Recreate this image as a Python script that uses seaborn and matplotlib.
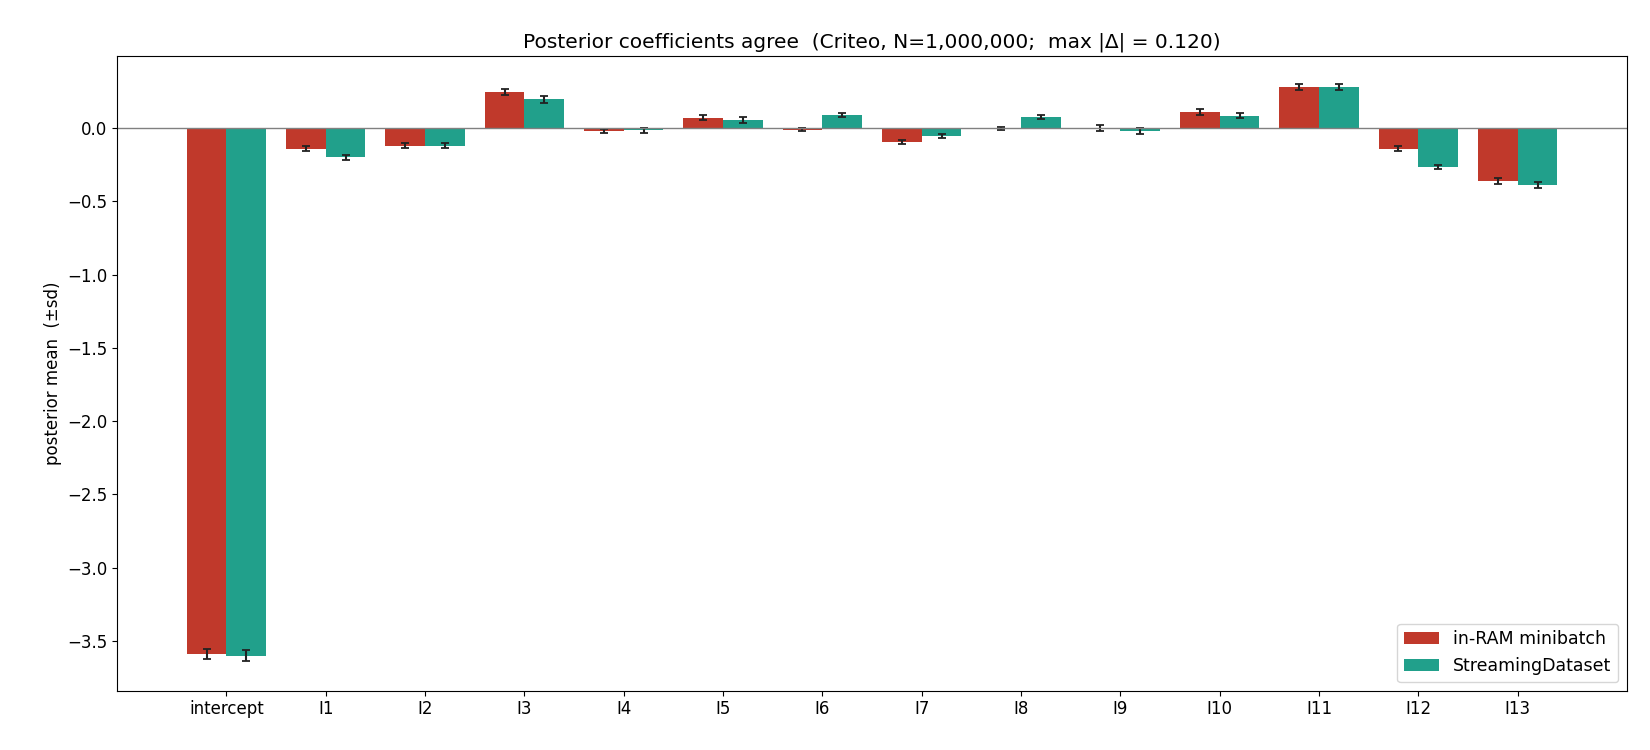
import numpy as np
import pandas as pd
import matplotlib
matplotlib.use("Agg")
import matplotlib.pyplot as plt
import seaborn as sns

categories = ["intercept"] + [f"I{i}" for i in range(1, 14)]
ram_mean = [-3.59, -0.14, -0.12, 0.245, -0.02, 0.07, -0.01, -0.095, 0.0, 0.0, 0.11, 0.28, -0.14, -0.36]
stream_mean = [-3.60, -0.20, -0.12, 0.195, -0.015, 0.055, 0.09, -0.055, 0.075, -0.02, 0.085, 0.28, -0.265, -0.39]
ram_sd = [0.035, 0.018, 0.018, 0.022, 0.015, 0.018, 0.012, 0.012, 0.01, 0.018, 0.018, 0.022, 0.018, 0.022]
stream_sd = [0.035, 0.018, 0.018, 0.022, 0.018, 0.018, 0.015, 0.012, 0.015, 0.018, 0.018, 0.022, 0.015, 0.022]
series = ["in-RAM minibatch", "StreamingDataset"]
colors = ["#c0392b", "#21a08b"]

df = pd.DataFrame({
    "feature": categories * 2,
    "mean": ram_mean + stream_mean,
    "sd": ram_sd + stream_sd,
    "method": [series[0]] * len(categories) + [series[1]] * len(categories),
})

fig, ax = plt.subplots(figsize=(16.5, 7.5), dpi=100)
sns.barplot(data=df, x="feature", y="mean", hue="method", palette=colors,
            errorbar=None, width=0.8, saturation=1, ax=ax)

for k, (m, s) in enumerate([(ram_mean, ram_sd), (stream_mean, stream_sd)]):
    cont = ax.containers[k]
    xs = [p.get_x() + p.get_width() / 2 for p in cont.patches]
    ax.errorbar(xs, m, yerr=s, fmt="none", ecolor="#222222", elinewidth=1.5, capsize=3, capthick=1.3)

ax.axhline(0, color="grey", linewidth=1)
ax.set_xlim(-1.1, 14.1)
ax.set_ylim(-3.84, 0.495)
ax.set_xlabel("")
ax.set_ylabel("posterior mean  (±sd)", fontsize=12)
ax.tick_params(labelsize=12)
ax.set_title("Posterior coefficients agree  (Criteo, N=1,000,000;  max |Δ| = 0.120)", fontsize=14.5)
ax.legend(loc="lower right", fontsize=12.5)
fig.subplots_adjust(left=0.071, right=0.986, top=0.926, bottom=0.079)
fig.savefig("out.png")
